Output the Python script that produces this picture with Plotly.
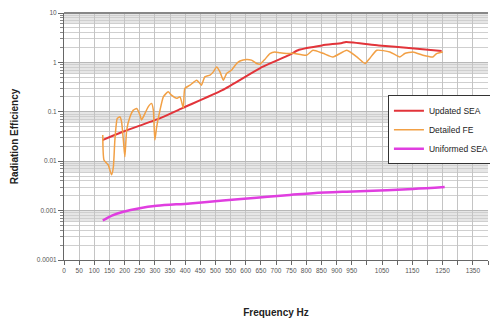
import plotly.graph_objects as go

# Updated SEA (red)
sea_f = [127, 194, 316, 391, 523, 655, 743, 776, 852, 918, 931, 1039, 1148, 1247]
sea_v = [0.0268, 0.0394, 0.0736, 0.119, 0.274, 0.81, 1.40, 1.80, 2.21, 2.48, 2.6, 2.21, 1.94, 1.71]

# Detailed FE (orange)
fe_f = [128, 132, 146, 157, 163, 168, 176, 185, 190, 196, 201, 207, 218, 229, 240, 251, 256, 262,
        278, 289, 295, 300, 306, 317, 328, 344, 355, 372, 383, 394, 399, 416, 438, 449, 454, 465,
        482, 493, 504, 515, 526, 537, 553, 570, 581, 603, 619, 636, 647, 663, 680, 696, 713, 735,
        756, 801, 822, 855, 888, 934, 967, 994, 1010, 1033, 1076, 1109, 1125, 1152, 1185, 1218,
        1230, 1251]
fe_v = [0.0338, 0.0106, 0.0084, 0.0053, 0.0077, 0.0268, 0.0736, 0.079, 0.063, 0.0268, 0.0123,
        0.0427, 0.079, 0.108, 0.117, 0.086, 0.068, 0.079, 0.126, 0.148, 0.108, 0.0268, 0.0498,
        0.108, 0.201, 0.254, 0.217, 0.187, 0.201, 0.119, 0.297, 0.346, 0.437, 0.375, 0.346, 0.51,
        0.551, 0.643, 0.811, 0.643, 0.437, 0.597, 0.696, 0.95, 1.07, 1.15, 1.11, 0.95, 0.92, 1.15,
        1.51, 1.63, 1.56, 1.51, 1.53, 1.4, 1.76, 1.53, 1.29, 1.76, 1.29, 0.95, 1.22, 1.76, 1.63,
        1.29, 1.51, 1.63, 1.4, 1.29, 1.51, 1.63]

# Uniformed SEA (magenta)
uni_f = [128, 160, 196, 250, 306, 416, 525, 636, 746, 822, 933, 1043, 1152, 1257]
uni_v = [0.00063, 0.00080, 0.00095, 0.00112, 0.00125, 0.0014, 0.0016, 0.00183, 0.00207, 0.00225,
         0.00242, 0.00256, 0.00274, 0.0030]

x_ticks = list(range(0, 1401, 50))
x_labels = [str(v) if (v <= 950 or v in (1050, 1150, 1250, 1350)) else "" for v in x_ticks]
y_ticks = [0.0001, 0.001, 0.01, 0.1, 1, 10]
y_labels = ["0.0001", "0.001", "0.01", "0.1", "1", "10"]

fig = go.Figure()
fig.add_trace(go.Scatter(x=sea_f, y=sea_v, mode="lines", name="Updated SEA",
                         line=dict(color="#e2343a", width=2, shape="spline", smoothing=0.6)))
fig.add_trace(go.Scatter(x=fe_f, y=fe_v, mode="lines", name="Detailed FE",
                         line=dict(color="#f2a045", width=1.5, shape="spline", smoothing=0.5)))
fig.add_trace(go.Scatter(x=uni_f, y=uni_v, mode="lines", name="Uniformed SEA",
                         line=dict(color="#e03ee0", width=2.5, shape="spline", smoothing=1)))

# light grey bands just below each decade line
for d in y_ticks[1:]:
    fig.add_shape(type="rect", xref="paper", yref="y", x0=0, x1=1, y0=d * 0.6, y1=d,
                  fillcolor="#e6e6e6", line_width=0, layer="below")

narrow = "Liberation Sans Narrow, Arial Narrow, Liberation Sans, sans-serif"
fig.update_layout(
    width=490, height=325,
    margin=dict(l=64, r=2, t=13, b=65, autoexpand=False),
    paper_bgcolor="white", plot_bgcolor="white",
    font=dict(family=narrow, color="#555", size=7),
    showlegend=True,
    legend=dict(x=0.764, y=0.667, xanchor="left", yanchor="top",
                bgcolor="white", bordercolor="#333", borderwidth=1,
                font=dict(family=narrow, size=8.5, color="#222"),
                itemwidth=30, tracegroupgap=0),
    xaxis=dict(range=[0, 1400], tickmode="array", tickvals=x_ticks, ticktext=x_labels,
               automargin=False,
               showgrid=True, gridcolor="#c4c4c4", gridwidth=1,
               ticks="outside", ticklen=4, tickcolor="#666",
               showline=True, linecolor="#666", linewidth=1, zeroline=False,
               tickfont=dict(size=6.5, color="#555"),
               title=dict(text="<b>Frequency Hz</b>", font=dict(family="Liberation Sans, Arial", size=10, color="#222"),
                          standoff=36)),
    yaxis=dict(type="log", range=[-4, 1], tickmode="array", tickvals=y_ticks, ticktext=y_labels,
               automargin=False,
               showgrid=True, gridcolor="#b8b8b8", gridwidth=1,
               minor=dict(dtick="D1", showgrid=True, gridcolor="#cfcfcf", gridwidth=1,
                          ticks="outside", ticklen=3, tickcolor="#888"),
               ticks="outside", ticklen=5, tickcolor="#666",
               showline=True, linecolor="#666", linewidth=1, zeroline=False,
               tickfont=dict(size=6.5, color="#555"),
               title=dict(text="<b>Radiation Efficiency</b>", font=dict(family="Liberation Sans, Arial", size=10, color="#222"),
                          standoff=16)),
)
# top frame line
fig.add_shape(type="line", xref="paper", yref="paper", x0=0, x1=1, y0=1, y1=1,
              line=dict(color="#888", width=2))
fig.write_html("out.html")
